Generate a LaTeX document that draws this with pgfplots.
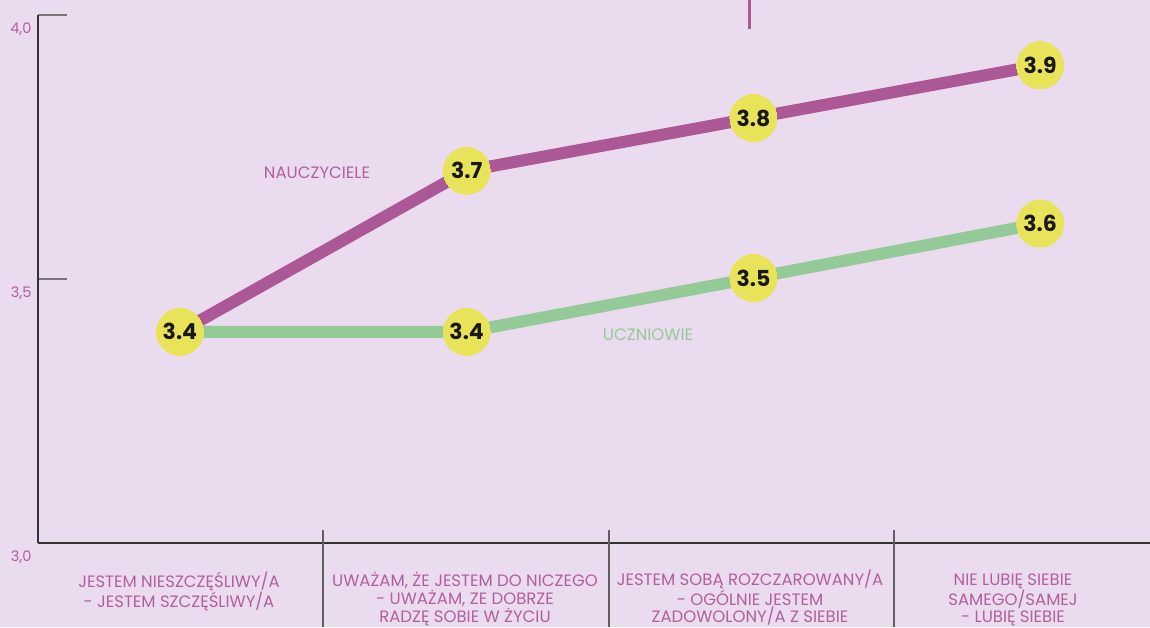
\documentclass[border=0pt]{standalone}
\usepackage{fontspec}
\setmainfont{Poppins}
\usepackage{pgfplots}
\pgfplotsset{compat=1.18}
\definecolor{bg}{HTML}{EADCEE}
\definecolor{purp}{HTML}{AD5896}
\definecolor{grn}{HTML}{94CA97}
\definecolor{yel}{HTML}{E9E35A}
\definecolor{labc}{HTML}{B25F9E}
\definecolor{axisc}{HTML}{333333}
\definecolor{tickc}{HTML}{777777}
\pgfplotstableread{
x y lab
0 3.400 3.4
1 3.705 3.7
2 3.805 3.8
3 3.905 3.9
}\teachers
\pgfplotstableread{
x y lab
0 3.400 3.4
1 3.400 3.4
2 3.502 3.5
3 3.605 3.6
}\students
\begin{document}
\begin{tikzpicture}[x=1pt,y=1pt]
\useasboundingbox (0,0) rectangle (1150,627);
\fill[bg] (0,0) rectangle (1150,627);
\begin{axis}[
  at={(38pt,84pt)}, anchor=south west,
  scale only axis, width=1112pt, height=528pt,
  xmin=-0.495, xmax=3.383, ymin=3, ymax=4,
  axis lines=left,
  axis line style={-, draw=axisc, line width=1.5pt},
  xtick=\empty, ytick={3,3.5,4},
  tick align=inside, major tick length=29pt,
  ytick style={draw=tickc, line width=2pt},
  yticklabel style={anchor=east, xshift=-3pt, yshift=-14pt, text=labc,
    font=\fontsize{14.5}{16}\selectfont,
    /pgf/number format/.cd, fixed, fixed zerofill, precision=1, use comma, assume math mode=true},
  clip=false,
]
\addplot[grn, line width=12pt, line join=round] table[x=x,y=y] {\students};
\addplot[purp, line width=12pt, line join=round] table[x=x,y=y] {\teachers};
\addplot[only marks, draw=yel, fill=yel, mark=*, mark size=23.5pt, mark options={draw=yel, fill=yel, line width=0pt},
  nodes near coords, point meta=explicit symbolic,
  every node near coord/.style={anchor=center, text=black!90, font=\fontsize{22}{22}\selectfont\bfseries}]
  table[x=x,y=y,meta=lab] {\students};
\addplot[only marks, draw=yel, fill=yel, mark=*, mark size=23.5pt, mark options={draw=yel, fill=yel, line width=0pt},
  nodes near coords, point meta=explicit symbolic,
  every node near coord/.style={anchor=center, text=black!90, font=\fontsize{22}{22}\selectfont\bfseries}]
  table[x=x,y=y,meta=lab] {\teachers};
\end{axis}
% separators
\foreach \sx in {323,609,894} {\draw[tickc!80!black, line width=1.5pt] (\sx,97) -- (\sx,0);}
% top decoration
\draw[purp, line width=3pt] (749,598) -- (749,627);
% series labels
\node[text=labc, font=\fontsize{16.5}{18}\selectfont] at (317,454) {NAUCZYCIELE};
\node[text=grn, font=\fontsize{16.5}{18}\selectfont] at (648,292) {UCZNIOWIE};
% category labels
\tikzset{cl/.style={text=labc, align=center, anchor=base, inner sep=0pt, font=\fontsize{16.5}{16.5}\selectfont}}
\node[cl] at (179,20) {JESTEM NIESZCZĘŚLIWY/A\\- JESTEM SZCZĘŚLIWY/A};
\node[cl] at (465,5) {UWAŻAM, ŻE JESTEM DO NICZEGO\\- UWAŻAM, ZE DOBRZE\\RADZĘ SOBIE W ŻYCIU};
\node[cl] at (750,5) {JESTEM SOBĄ ROZCZAROWANY/A\\- OGÓLNIE JESTEM\\ZADOWOLONY/A Z SIEBIE};
\node[cl] at (1013,5) {NIE LUBIĘ SIEBIE\\SAMEGO/SAMEJ\\- LUBIĘ SIEBIE};
\end{tikzpicture}
\end{document}
